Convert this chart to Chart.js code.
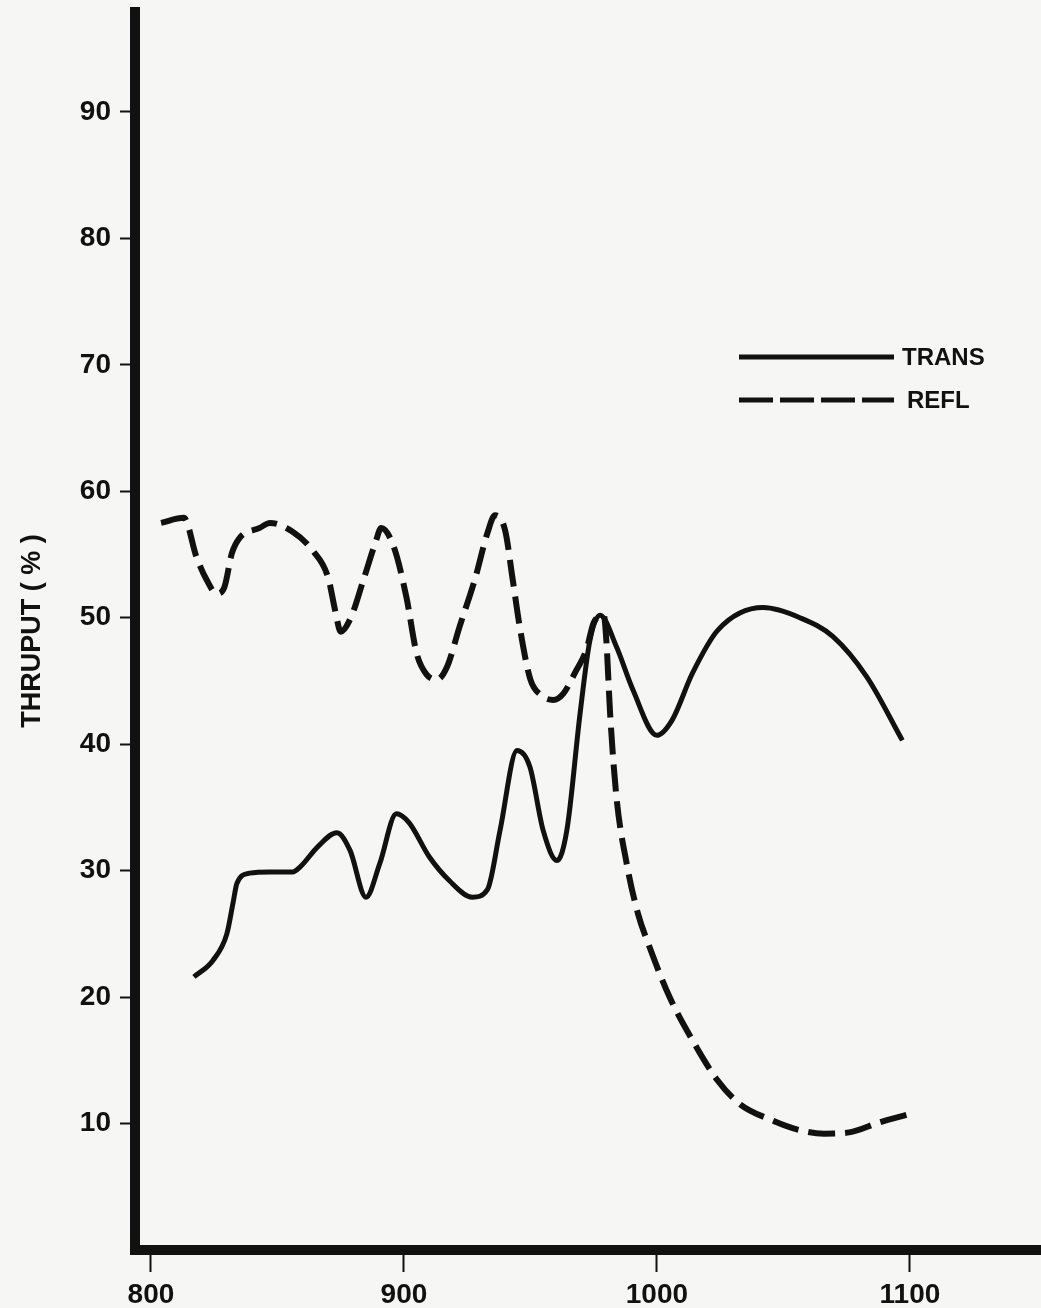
<!DOCTYPE html>
<html>
<head>
<meta charset="utf-8">
<title>THRUPUT</title>
<script src="https://cdn.jsdelivr.net/npm/chart.js@4.4.1/dist/chart.umd.min.js"></script>
<style>
  html, body { margin: 0; padding: 0; background: #f6f6f4; }
  #wrap { width: 1041px; height: 1308px; }
</style>
</head>
<body>
<div id="wrap"><canvas id="chart"></canvas></div>
<script>
// wavelength values
const transX = [817, 824.5, 830, 832.5, 834, 839, 847, 856, 859, 866, 873.5, 878.7, 885, 890.5, 897, 902, 910, 918, 927, 933, 938, 944.7, 949.8, 955, 960.5, 964.4, 969.6, 973.5, 977.5, 984, 990.5, 1000, 1006, 1014, 1024, 1042, 1056.5, 1069.6, 1083, 1097]
const transY = [21.6, 22.9, 25.0, 27.5, 29.0, 29.8, 29.9, 29.9, 30.3, 31.9, 33.0, 31.6, 27.9, 30.6, 34.5, 33.8, 31.1, 29.2, 27.9, 28.5, 33.2, 39.5, 38.2, 33.2, 30.8, 33.2, 42.4, 48.2, 50.2, 47.7, 44.3, 40.7, 41.9, 45.6, 49.0, 50.8, 50.0, 48.5, 45.3, 40.3]

const reflX = [804, 813, 818, 822, 826, 829, 832, 835, 843, 847, 856, 864, 870, 873, 875, 879, 884, 889, 891, 896, 901, 905, 909, 913, 917, 922, 928, 933, 936, 940, 943, 946, 950, 954, 959, 963, 968, 972, 975, 979, 980, 981.5, 984, 988, 992.5, 997, 1005, 1014, 1024, 1033, 1045, 1056, 1066, 1076, 1088, 1099]
const reflY = [57.5, 57.9, 54.8, 53.0, 51.9, 52.4, 55.1, 56.3, 57.1, 57.5, 56.8, 55.3, 53.2, 50.4, 48.9, 50.0, 53.0, 56.1, 57.1, 55.6, 51.6, 47.2, 45.5, 45.1, 46.1, 49.3, 53.0, 56.7, 58.1, 56.9, 53.0, 49.0, 45.1, 43.9, 43.5, 44.0, 45.8, 47.4, 49.6, 50.2, 48.2, 42.4, 35.8, 30.6, 26.6, 24.0, 20.0, 16.6, 13.4, 11.5, 10.3, 9.5, 9.2, 9.3, 10.1, 10.7]

const xTicks = [800, 900, 1000, 1100]
const yTicks = [10, 20, 30, 40, 50, 60, 70, 80, 90]

const ink = '#111'
const fontFamily = "'Liberation Sans', Arial, sans-serif"

function toPoints(xs, ys) {
  return xs.map((x, i) => ({ x: x, y: ys[i] }))
}

// legend drawn inside the plot, lines on the left, names on the right
const insideLegend = {
  id: 'insideLegend',
  afterDraw(chart) {
    const ctx = chart.ctx
    const rows = [357, 400]
    ctx.save()
    chart.data.datasets.forEach((ds, i) => {
      const y = rows[i]
      ctx.strokeStyle = ink
      ctx.lineWidth = 5
      ctx.lineCap = 'butt'
      ctx.setLineDash(ds.borderDash && ds.borderDash.length ? [34, 7] : [])
      ctx.beginPath()
      ctx.moveTo(739, y)
      ctx.lineTo(894, y)
      ctx.stroke()
      ctx.setLineDash([])
      ctx.fillStyle = ink
      ctx.font = 'bold 24px ' + fontFamily
      ctx.textBaseline = 'middle'
      ctx.fillText(ds.label, i === 0 ? 902 : 907, y + 1)
    })
    ctx.restore()
  }
}

const ctx = document.getElementById('chart').getContext('2d')
new Chart(ctx, {
  type: 'line',
  data: {
    datasets: [
      {
        label: 'TRANS',
        data: toPoints(transX, transY),
        borderColor: ink,
        borderWidth: 5,
        pointRadius: 0,
        fill: false,
        cubicInterpolationMode: 'monotone'
      },
      {
        label: 'REFL',
        data: toPoints(reflX, reflY),
        borderColor: ink,
        borderWidth: 6,
        borderDash: [27, 10],
        pointRadius: 0,
        fill: false,
        cubicInterpolationMode: 'monotone'
      }
    ]
  },
  options: {
    responsive: true,
    maintainAspectRatio: false,
    animation: false,
    layout: { padding: { top: 12, right: 0, bottom: 0, left: 0 } },
    plugins: {
      legend: { display: false },
      tooltip: { enabled: false }
    },
    scales: {
      x: {
        type: 'linear',
        min: 793.7,
        max: 1151.8,
        afterBuildTicks: (scale) => { scale.ticks = xTicks.map(v => ({ value: v })) },
        afterFit: (scale) => {
          scale.height = 58
          scale.paddingLeft = 0
          scale.paddingRight = 0
        },
        grid: {
          drawOnChartArea: false,
          drawTicks: true,
          tickLength: 22,
          tickWidth: 2,
          color: ink
        },
        border: { display: true, width: 10, color: ink },
        ticks: {
          color: ink,
          padding: 6,
          maxRotation: 0,
          callback: (v) => String(v),
          font: { family: fontFamily, size: 28, weight: 'bold' }
        }
      },
      y: {
        min: 0,
        max: 97.9,
        afterBuildTicks: (scale) => { scale.ticks = yTicks.map(v => ({ value: v })) },
        afterFit: (scale) => {
          scale.width = 135
          // no tick at the ends, so no room needed for half labels
          scale.paddingTop = 0
          scale.paddingBottom = 0
        },
        grid: {
          drawOnChartArea: false,
          drawTicks: true,
          tickLength: 15,
          tickWidth: 2,
          color: ink
        },
        border: { display: true, width: 10, color: ink },
        ticks: {
          color: ink,
          padding: 9,
          callback: (v) => String(v),
          font: { family: fontFamily, size: 28, weight: 'bold' }
        },
        title: {
          display: true,
          text: 'THRUPUT ( % )',
          color: ink,
          padding: { top: 16, bottom: 0 },
          font: { family: fontFamily, size: 27, weight: 'bold' }
        }
      }
    }
  },
  plugins: [insideLegend]
})
</script>
</body>
</html>
